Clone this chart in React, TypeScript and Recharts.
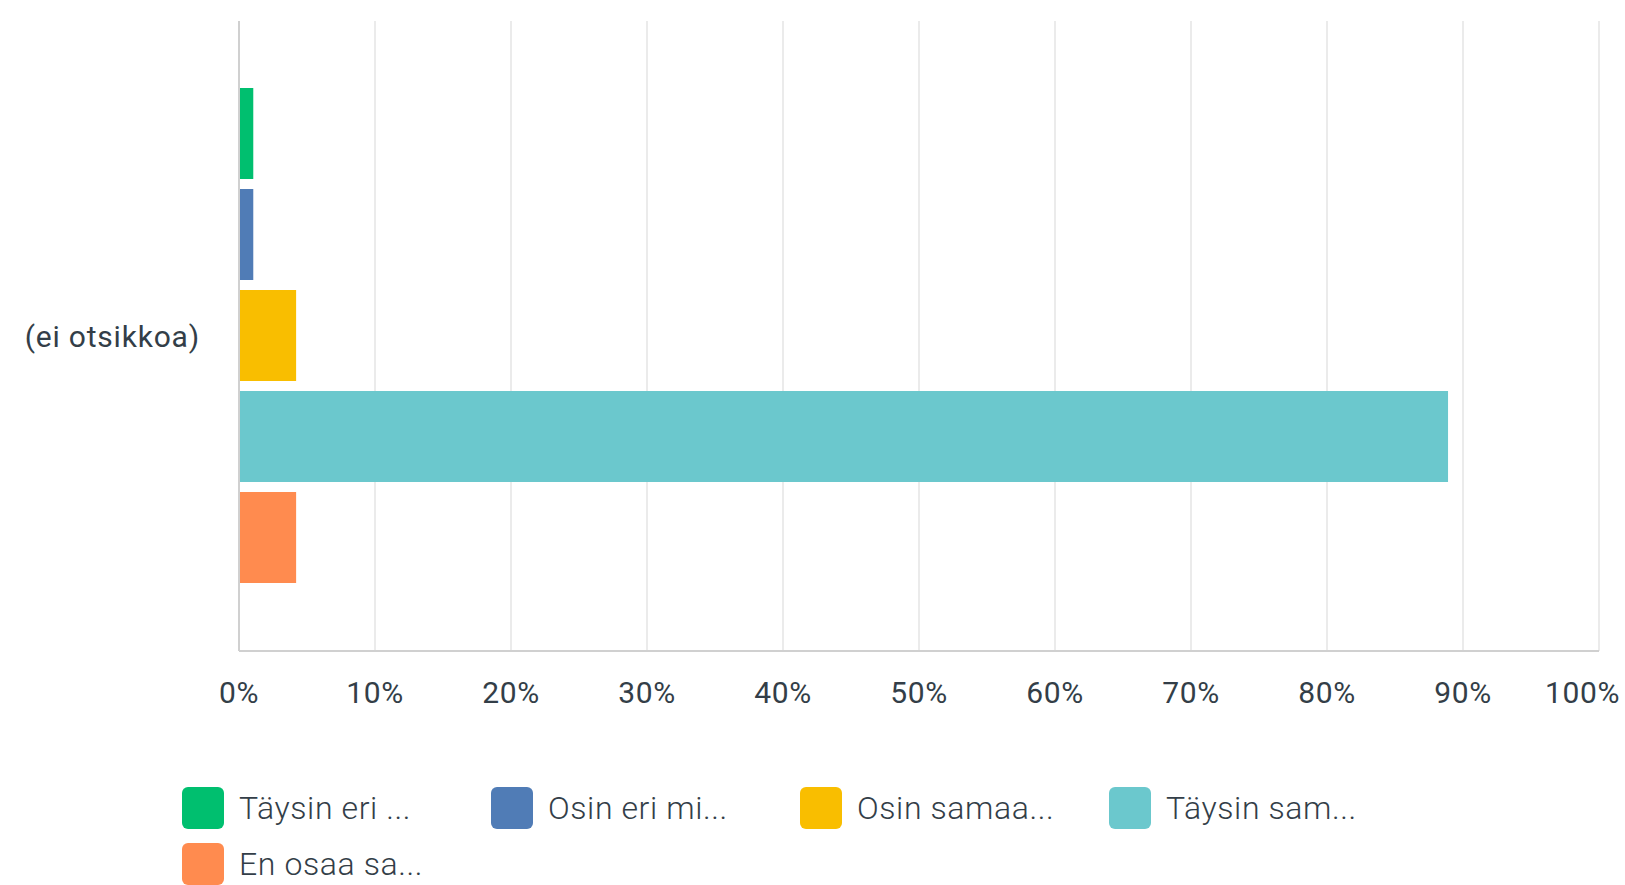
import { BarChart, Bar, XAxis, YAxis, CartesianGrid } from "recharts";

const categories = ["(ei otsikkoa)"];
const seriesNames = [
  "Täysin eri ...",
  "Osin eri mi...",
  "Osin samaa...",
  "Täysin sam...",
  "En osaa sa...",
];
// percent of respondents, one value per series for the single category
const seriesValues = [1.05, 1.05, 4.2, 88.9, 4.2];
const seriesColors = ["#00bf6f", "#507cb6", "#f9be00", "#6bc8cd", "#ff8b4f"];
const xTicks = [0, 10, 20, 30, 40, 50, 60, 70, 80, 90, 100];

const data = categories.map((name) => {
  const row: Record<string, string | number> = { name };
  seriesNames.forEach((_, i) => {
    row[`s${i}`] = seriesValues[i];
  });
  return row;
});

const textColor = "#333e48";
const font = "Roboto, 'Open Sans', sans-serif";

const XTick = (props: any) => {
  const { x, y, payload } = props;
  const last = payload.value === 100;
  return (
    <text
      x={last ? 1620 : x}
      y={y}
      dy="0.71em"
      textAnchor={last ? "end" : "middle"}
      fill={textColor}
      fontSize={30}
      letterSpacing={0.6}
      fontFamily={font}
    >
      {`${payload.value}%`}
    </text>
  );
};

const App: React.FC = () => (
  <div style={{ position: "absolute", left: 0, top: 0, width: 1625, height: 885, background: "#fff" }}>
    <BarChart
      width={1625}
      height={885}
      data={data}
      layout="vertical"
      margin={{ top: 21, right: 26, left: 0, bottom: 0 }}
      barCategoryGap={67}
      barGap={10}
    >
      <CartesianGrid horizontal={false} stroke="#ebebeb" strokeWidth={2} />
      <XAxis
        type="number"
        domain={[0, 100]}
        ticks={xTicks}
        interval={0}
        axisLine={{ stroke: "#d0d0d0", strokeWidth: 2 }}
        tickLine={false}
        tickSize={0}
        tickMargin={31}
        height={234}
        tick={<XTick />}
      />
      <YAxis
        type="category"
        dataKey="name"
        width={239}
        axisLine={{ stroke: "#d0d0d0", strokeWidth: 2 }}
        tickLine={false}
        tickSize={0}
        tickMargin={39}
        tick={{ fill: textColor, fontSize: 30, fontFamily: font, letterSpacing: 0.8 }}
      />
      {seriesNames.map((n, i) => (
        <Bar
          key={n}
          dataKey={`s${i}`}
          name={n}
          fill={seriesColors[i]}
          isAnimationActive={false}
        />
      ))}
    </BarChart>
    <div
      style={{
        position: "absolute",
        left: 182,
        top: 787,
        width: 1240,
        display: "flex",
        flexWrap: "wrap",
        rowGap: 14,
        fontFamily: font,
      }}
    >
      {seriesNames.map((n, i) => (
        <div key={n} style={{ width: 309, height: 42, display: "flex", alignItems: "center" }}>
          <div
            style={{
              width: 42,
              height: 42,
              borderRadius: 6,
              background: seriesColors[i],
              marginRight: 15,
              flexShrink: 0,
            }}
          />
          <span
            style={{
              fontSize: 32,
              fontWeight: 300,
              letterSpacing: 0.6,
              color: textColor,
              whiteSpace: "nowrap",
            }}
          >
            {n}
          </span>
        </div>
      ))}
    </div>
  </div>
);

export default App;
